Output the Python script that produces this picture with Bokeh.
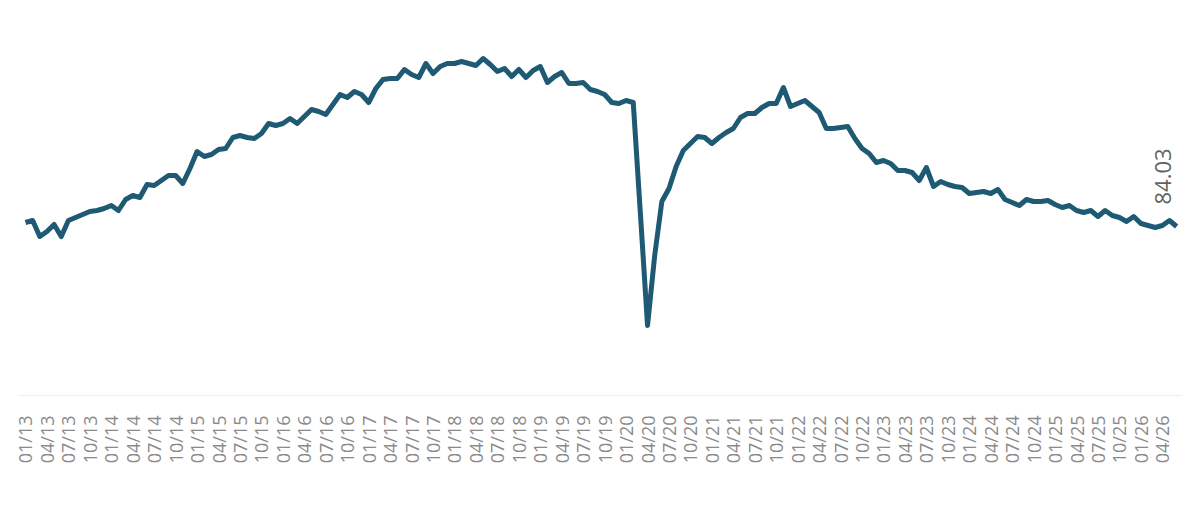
import pandas as pd
from math import pi
from bokeh.plotting import figure
from bokeh.models import ColumnDataSource, Range1d, FixedTicker, Label
from bokeh.embed import file_html
from bokeh.resources import INLINE

START_MONTH = "2013-01-01"
values = [
    84.43, 84.63, 83.03, 83.53, 84.23, 83.03, 84.63, 84.93, 85.23, 85.53, 85.63, 85.83,
    86.13, 85.63, 86.73, 87.13, 86.93, 88.23, 88.13, 88.63, 89.13, 89.13, 88.33, 89.83,
    91.53, 91.03, 91.23, 91.73, 91.83, 92.93, 93.13, 92.93, 92.83, 93.33, 94.33, 94.13,
    94.33, 94.83, 94.33, 95.03, 95.73, 95.53, 95.23, 96.23, 97.23, 96.93, 97.53, 97.23,
    96.43, 97.83, 98.73, 98.83, 98.83, 99.73, 99.23, 98.93, 100.33, 99.33, 100.03, 100.33,
    100.33, 100.53, 100.33, 100.13, 100.83, 100.23, 99.53, 99.83, 99.03, 99.73, 98.93, 99.63,
    100.03, 98.43, 99.03, 99.43, 98.33, 98.33, 98.43, 97.73, 97.53, 97.23, 96.43, 96.33,
    96.63, 96.43, 85.33, 74.13, 81.13, 86.53, 87.83, 90.03, 91.63, 92.33, 93.03, 92.93,
    92.33, 92.93, 93.43, 93.83, 94.93, 95.33, 95.33, 95.93, 96.33, 96.33, 97.93, 96.03,
    96.33, 96.63, 96.03, 95.43, 93.83, 93.83, 93.93, 94.03, 92.83, 91.83, 91.33, 90.43,
    90.63, 90.33, 89.63, 89.63, 89.43, 88.63, 89.93, 88.03, 88.53, 88.23, 88.03, 87.93,
    87.33, 87.43, 87.53, 87.33, 87.73, 86.73, 86.43, 86.13, 86.73, 86.53, 86.53, 86.63,
    86.23, 85.93, 86.13, 85.63, 85.43, 85.63, 85.03, 85.63, 85.13, 84.93, 84.53, 85.03,
    84.33, 84.13, 83.93, 84.13, 84.63, 84.03,
]
TICK_MONTHS = [1, 4, 7, 10]

months = pd.date_range(START_MONTH, periods=len(values), freq="MS")
idx = list(range(len(values)))
tick_pos = [i for i, m in enumerate(months) if m.month in TICK_MONTHS]
tick_lbl = {i: months[i].strftime("%m/%y") for i in tick_pos}

source = ColumnDataSource(dict(x=idx, y=values))

p = figure(width=1192, height=498, output_backend="svg", toolbar_location=None,
           x_range=Range1d(-0.979, 161.82), y_range=Range1d(67.13, 104.63),
           min_border_left=18, min_border_right=10, min_border_top=20,
           min_border_bottom=103)
p.outline_line_color = None
p.background_fill_color = "white"
p.border_fill_color = "white"
p.grid.visible = False
p.yaxis.visible = False

p.line("x", "y", source=source, line_color="#1e5a73", line_width=5,
       line_join="round")

ax = p.xaxis[0]
ax.ticker = FixedTicker(ticks=tick_pos)
ax.major_label_overrides = tick_lbl
ax.major_label_orientation = pi / 2
ax.major_tick_line_color = None
ax.minor_tick_line_color = None
ax.axis_line_color = "#eeeeee"
ax.axis_line_width = 1
ax.major_label_standoff = 14
ax.major_label_text_font = "Open Sans"
ax.major_label_text_font_size = "18px"
ax.major_label_text_color = "#8a8a8a"

lbl = Label(x=idx[-1], y=values[-1], text=f"{values[-1]:.2f}", angle=pi / 2,
            text_align="left", text_baseline="bottom", x_offset=-6, y_offset=22,
            text_font="Open Sans", text_font_size="22px", text_color="#60655c")
p.add_layout(lbl)

open("out.html", "w").write(file_html(p, INLINE))
